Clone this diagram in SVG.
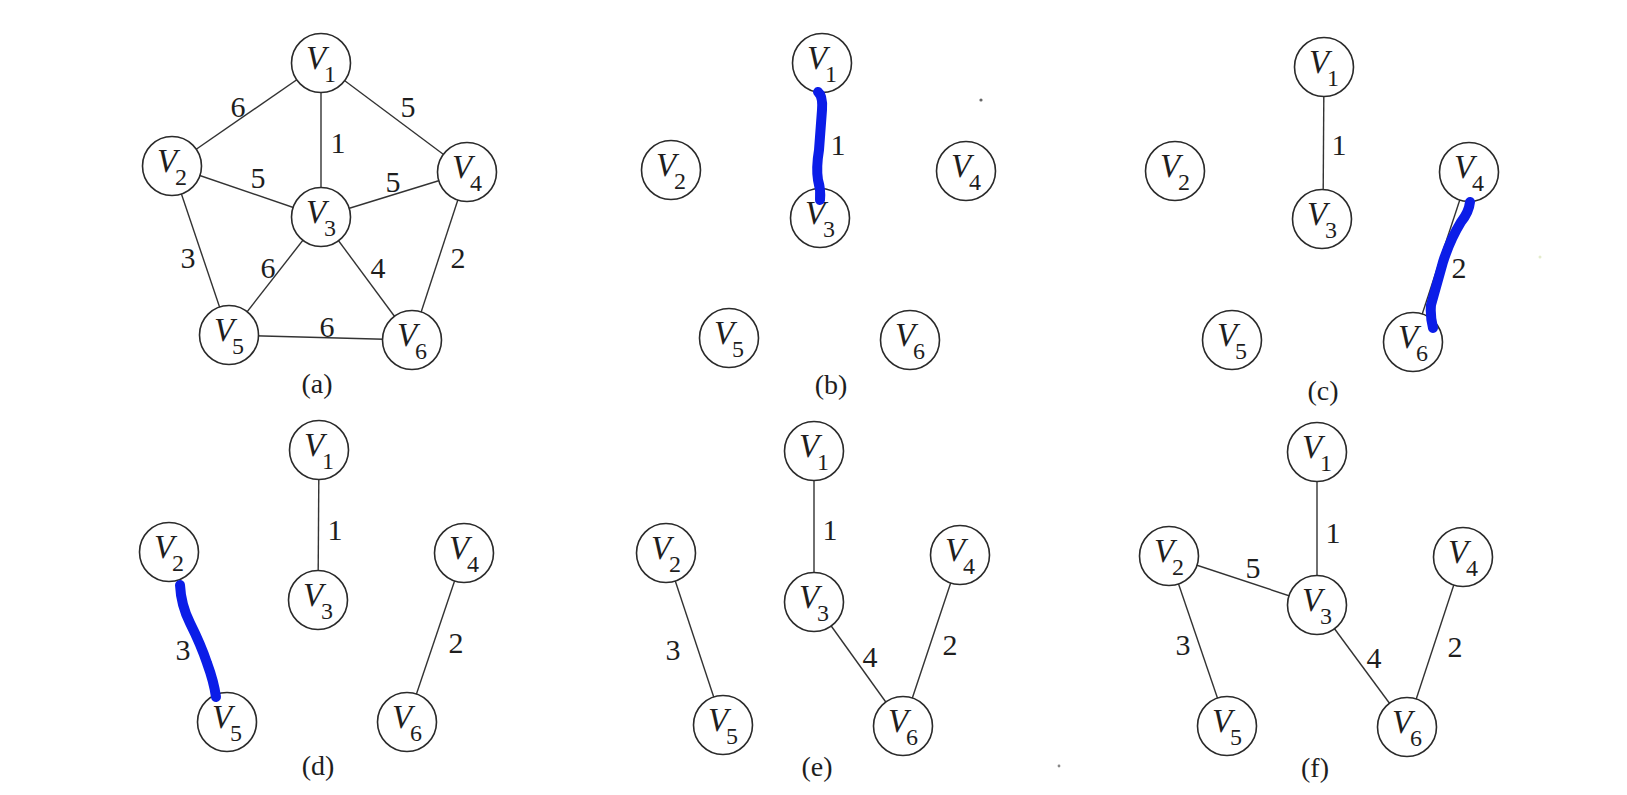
<svg xmlns="http://www.w3.org/2000/svg" width="1627" height="795" viewBox="0 0 1627 795">
<style>
.n circle{fill:#fff;stroke:#2a2a2a;stroke-width:1.6}
.v{font-family:"Liberation Serif",serif;font-style:italic;font-size:33px;fill:#1e1e1e}
.s{font-family:"Liberation Serif",serif;font-size:24px;fill:#1e1e1e}
.w{font-family:"Liberation Serif",serif;font-size:30px;fill:#1e1e1e;text-anchor:middle}
.cap{font-family:"Liberation Serif",serif;font-size:28px;fill:#1e1e1e;text-anchor:middle}
.e line{stroke:#333;stroke-width:1.4}
.b{fill:none;stroke:#0b1de8;stroke-width:10;stroke-linecap:round;stroke-linejoin:round}
</style>
<rect width="1627" height="795" fill="#fff"/>

<!-- thin connectors -->
<g id="connectors" class="e">
<!-- (a) -->
<line x1="321" y1="63" x2="172" y2="166"/>
<line x1="321" y1="63" x2="467" y2="172"/>
<line x1="321" y1="63" x2="321" y2="217"/>
<line x1="172" y1="166" x2="321" y2="217"/>
<line x1="467" y1="172" x2="321" y2="217"/>
<line x1="172" y1="166" x2="229" y2="335"/>
<line x1="321" y1="217" x2="229" y2="335"/>
<line x1="321" y1="217" x2="412" y2="340"/>
<line x1="467" y1="172" x2="412" y2="340"/>
<line x1="229" y1="335" x2="412" y2="340"/>
<!-- (c) -->
<line x1="1324" y1="67" x2="1323" y2="219"/>
<line x1="1469" y1="172" x2="1413" y2="342"/>
<!-- (d) -->
<line x1="319" y1="450" x2="318" y2="600"/>
<line x1="464" y1="553" x2="407" y2="722"/>
<!-- (e) -->
<line x1="814" y1="451" x2="814" y2="602"/>
<line x1="666" y1="553" x2="723" y2="725"/>
<line x1="814" y1="602" x2="903" y2="726"/>
<line x1="960" y1="555" x2="903" y2="726"/>
<!-- (f) -->
<line x1="1317" y1="452" x2="1317" y2="605"/>
<line x1="1169" y1="556" x2="1317" y2="605"/>
<line x1="1169" y1="556" x2="1227" y2="726"/>
<line x1="1317" y1="605" x2="1407" y2="727"/>
<line x1="1463" y1="557" x2="1407" y2="727"/>
</g>

<!-- panel (a) -->
<g id="a-v1" class="n"><circle cx="321" cy="63" r="29.5"/><text class="v" x="306" y="69">V</text><text class="s" x="324" y="82">1</text></g>
<g id="a-v2" class="n"><circle cx="172" cy="166" r="29.5"/><text class="v" x="157" y="172">V</text><text class="s" x="175" y="185">2</text></g>
<g id="a-v3" class="n"><circle cx="321" cy="217" r="29.5"/><text class="v" x="306" y="223">V</text><text class="s" x="324" y="236">3</text></g>
<g id="a-v4" class="n"><circle cx="467" cy="172" r="29.5"/><text class="v" x="452" y="178">V</text><text class="s" x="470" y="191">4</text></g>
<g id="a-v5" class="n"><circle cx="229" cy="335" r="29.5"/><text class="v" x="214" y="341">V</text><text class="s" x="232" y="354">5</text></g>
<g id="a-v6" class="n"><circle cx="412" cy="340" r="29.5"/><text class="v" x="397" y="346">V</text><text class="s" x="415" y="359">6</text></g>
<g id="a-labels">
<text class="w" x="238" y="117">6</text>
<text class="w" x="408" y="117">5</text>
<text class="w" x="338" y="153">1</text>
<text class="w" x="258" y="188">5</text>
<text class="w" x="393" y="192">5</text>
<text class="w" x="188" y="268">3</text>
<text class="w" x="268" y="278">6</text>
<text class="w" x="378" y="278">4</text>
<text class="w" x="458" y="268">2</text>
<text class="w" x="327" y="337">6</text>
<text class="cap" x="317" y="393">(a)</text>
</g>

<!-- panel (b) -->
<g id="b-v1" class="n"><circle cx="822" cy="63" r="29.5"/><text class="v" x="807" y="69">V</text><text class="s" x="825" y="82">1</text></g>
<g id="b-v2" class="n"><circle cx="671" cy="170" r="29.5"/><text class="v" x="656" y="176">V</text><text class="s" x="674" y="189">2</text></g>
<g id="b-v3" class="n"><circle cx="820" cy="218" r="29.5"/><text class="v" x="805" y="224">V</text><text class="s" x="823" y="237">3</text></g>
<g id="b-v4" class="n"><circle cx="966" cy="171" r="29.5"/><text class="v" x="951" y="177">V</text><text class="s" x="969" y="190">4</text></g>
<g id="b-v5" class="n"><circle cx="729" cy="338" r="29.5"/><text class="v" x="714" y="344">V</text><text class="s" x="732" y="357">5</text></g>
<g id="b-v6" class="n"><circle cx="910" cy="340" r="29.5"/><text class="v" x="895" y="346">V</text><text class="s" x="913" y="359">6</text></g>
<g id="b-labels">
<text class="w" x="838" y="155">1</text>
<text class="cap" x="831" y="394">(b)</text>
</g>

<!-- panel (c) -->
<g id="c-v1" class="n"><circle cx="1324" cy="67" r="29.5"/><text class="v" x="1309" y="73">V</text><text class="s" x="1327" y="86">1</text></g>
<g id="c-v2" class="n"><circle cx="1175" cy="171" r="29.5"/><text class="v" x="1160" y="177">V</text><text class="s" x="1178" y="190">2</text></g>
<g id="c-v3" class="n"><circle cx="1322" cy="219" r="29.5"/><text class="v" x="1307" y="225">V</text><text class="s" x="1325" y="238">3</text></g>
<g id="c-v4" class="n"><circle cx="1469" cy="172" r="29.5"/><text class="v" x="1454" y="178">V</text><text class="s" x="1472" y="191">4</text></g>
<g id="c-v5" class="n"><circle cx="1232" cy="340" r="29.5"/><text class="v" x="1217" y="346">V</text><text class="s" x="1235" y="359">5</text></g>
<g id="c-v6" class="n"><circle cx="1413" cy="342" r="29.5"/><text class="v" x="1398" y="348">V</text><text class="s" x="1416" y="361">6</text></g>
<g id="c-labels">
<text class="w" x="1339" y="155">1</text>
<text class="w" x="1459" y="278">2</text>
<text class="cap" x="1323" y="400">(c)</text>
</g>

<!-- panel (d) -->
<g id="d-v1" class="n"><circle cx="319" cy="450" r="29.5"/><text class="v" x="304" y="456">V</text><text class="s" x="322" y="469">1</text></g>
<g id="d-v2" class="n"><circle cx="169" cy="552" r="29.5"/><text class="v" x="154" y="558">V</text><text class="s" x="172" y="571">2</text></g>
<g id="d-v3" class="n"><circle cx="318" cy="600" r="29.5"/><text class="v" x="303" y="606">V</text><text class="s" x="321" y="619">3</text></g>
<g id="d-v4" class="n"><circle cx="464" cy="553" r="29.5"/><text class="v" x="449" y="559">V</text><text class="s" x="467" y="572">4</text></g>
<g id="d-v5" class="n"><circle cx="227" cy="722" r="29.5"/><text class="v" x="212" y="728">V</text><text class="s" x="230" y="741">5</text></g>
<g id="d-v6" class="n"><circle cx="407" cy="722" r="29.5"/><text class="v" x="392" y="728">V</text><text class="s" x="410" y="741">6</text></g>
<g id="d-labels">
<text class="w" x="335" y="540">1</text>
<text class="w" x="456" y="653">2</text>
<text class="w" x="183" y="660">3</text>
<text class="cap" x="318" y="775">(d)</text>
</g>

<!-- panel (e) -->
<g id="e-v1" class="n"><circle cx="814" cy="451" r="29.5"/><text class="v" x="799" y="457">V</text><text class="s" x="817" y="470">1</text></g>
<g id="e-v2" class="n"><circle cx="666" cy="553" r="29.5"/><text class="v" x="651" y="559">V</text><text class="s" x="669" y="572">2</text></g>
<g id="e-v3" class="n"><circle cx="814" cy="602" r="29.5"/><text class="v" x="799" y="608">V</text><text class="s" x="817" y="621">3</text></g>
<g id="e-v4" class="n"><circle cx="960" cy="555" r="29.5"/><text class="v" x="945" y="561">V</text><text class="s" x="963" y="574">4</text></g>
<g id="e-v5" class="n"><circle cx="723" cy="725" r="29.5"/><text class="v" x="708" y="731">V</text><text class="s" x="726" y="744">5</text></g>
<g id="e-v6" class="n"><circle cx="903" cy="726" r="29.5"/><text class="v" x="888" y="732">V</text><text class="s" x="906" y="745">6</text></g>
<g id="e-labels">
<text class="w" x="830" y="540">1</text>
<text class="w" x="673" y="660">3</text>
<text class="w" x="870" y="667">4</text>
<text class="w" x="950" y="655">2</text>
<text class="cap" x="817" y="776">(e)</text>
</g>

<!-- panel (f) -->
<g id="f-v1" class="n"><circle cx="1317" cy="452" r="29.5"/><text class="v" x="1302" y="458">V</text><text class="s" x="1320" y="471">1</text></g>
<g id="f-v2" class="n"><circle cx="1169" cy="556" r="29.5"/><text class="v" x="1154" y="562">V</text><text class="s" x="1172" y="575">2</text></g>
<g id="f-v3" class="n"><circle cx="1317" cy="605" r="29.5"/><text class="v" x="1302" y="611">V</text><text class="s" x="1320" y="624">3</text></g>
<g id="f-v4" class="n"><circle cx="1463" cy="557" r="29.5"/><text class="v" x="1448" y="563">V</text><text class="s" x="1466" y="576">4</text></g>
<g id="f-v5" class="n"><circle cx="1227" cy="726" r="29.5"/><text class="v" x="1212" y="732">V</text><text class="s" x="1230" y="745">5</text></g>
<g id="f-v6" class="n"><circle cx="1407" cy="727" r="29.5"/><text class="v" x="1392" y="733">V</text><text class="s" x="1410" y="746">6</text></g>
<g id="f-labels">
<text class="w" x="1333" y="543">1</text>
<text class="w" x="1253" y="578">5</text>
<text class="w" x="1183" y="655">3</text>
<text class="w" x="1374" y="668">4</text>
<text class="w" x="1455" y="657">2</text>
<text class="cap" x="1315" y="777">(f)</text>
</g>

<!-- highlighted (blue) connectors -->
<g id="highlights">
<path class="b" d="M818,92 Q823,96 822,110 L819,150 Q816,168 818,180 Q821,190 820,200"/>
<path class="b" d="M1470,202 Q1469,212 1461,222 Q1450,240 1443,262 L1431,305 Q1430,316 1433,328"/>
<path class="b" d="M180,585 Q181,605 190,623 Q201,645 207,663 Q214,682 216,697"/>
</g>

<!-- scan specks -->
<g id="specks">
<circle cx="981" cy="100" r="1.6" fill="#666"/>
<circle cx="1059" cy="766" r="1.4" fill="#888"/>
<circle cx="1540" cy="257" r="1.5" fill="#e4eccc"/>
</g>
</svg>
